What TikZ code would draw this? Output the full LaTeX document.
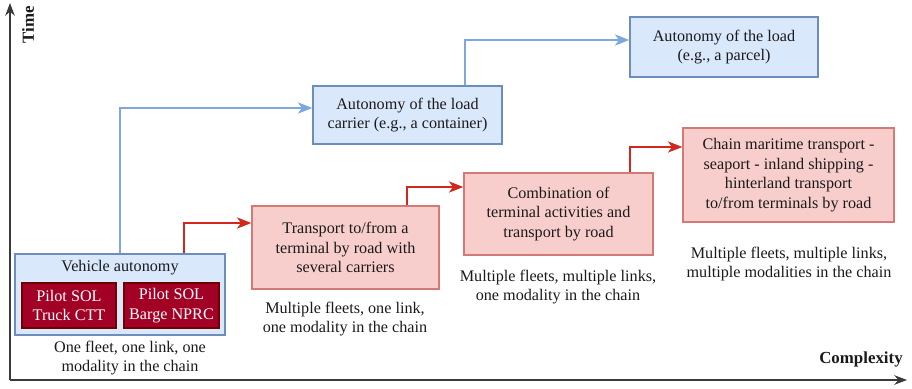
\documentclass[tikz,border=0pt]{standalone}
\usepackage{fontspec}
\setmainfont{Liberation Serif}
\usepackage{tikz}
\usetikzlibrary{arrows.meta,positioning}
\definecolor{bluefill}{HTML}{DAE8FC}
\definecolor{blueline}{HTML}{6C8EBF}
\definecolor{redfill}{HTML}{F8CECC}
\definecolor{redline}{HTML}{D47A76}
\definecolor{pilotfill}{HTML}{A20025}
\definecolor{pilotline}{HTML}{6F0000}
\definecolor{bluearrow}{HTML}{7EA6E0}
\definecolor{redarrow}{HTML}{D0281F}
\definecolor{axisgray}{HTML}{3A3A3A}
\definecolor{txt}{HTML}{1A1A1A}
\tikzset{
  stage/.style={draw,align=center,inner sep=2pt,line width=0.9pt,text=txt,
    font=\fontsize{11.5}{14}\selectfont},
  bluebox/.style={stage,fill=bluefill,draw=blueline},
  redbox/.style={stage,fill=redfill,draw=redline},
  pilot/.style={stage,fill=pilotfill,draw=pilotline,text=white,
    minimum height=1.125cm},
  caption/.style={align=center,text=txt,font=\fontsize{11.5}{13.5}\selectfont},
  axislabel/.style={font=\fontsize{12}{14}\selectfont\bfseries,text=txt},
  axis/.style={-{Stealth[length=3.2mm,width=2.4mm]},line width=0.9pt,draw=axisgray},
  bluearr/.style={-{Stealth[length=3.6mm,width=2.8mm,inset=1mm]},line width=1.1pt,draw=bluearrow},
  redarr/.style={bluearr,draw=redarrow},
}
\begin{document}
\begin{tikzpicture}[x=0.025cm,y=-0.025cm]
  \useasboundingbox (0,0) rectangle (912,388);
  % axes
  \coordinate (o) at (10,380);
  \coordinate (ytop) at (10,3);
  \coordinate (xend) at (907,380);
  \draw[axis] (o) -- (ytop);
  \draw[axis] (o) -- (xend);
  \node[axislabel,rotate=90] (time) at (28,25) {Time};
  \node[axislabel] (cplx) at (861,359) {Complexity};

  % first stage: one fleet
  \node[bluebox,minimum width=5.25cm,minimum height=2.025cm] (veh) at (120,294.5) {};
  \node[stage,draw=none] (vehtitle) at (120,268) {Vehicle autonomy};
  \node[pilot,minimum width=2.35cm] (ctt) at (69,305.5) {Pilot SOL\\Truck CTT};
  \node[pilot,minimum width=2.375cm] (nprc) at (171.5,305.5) {Pilot SOL\\Barge NPRC};
  \node[caption] (cap1) at (130,358) {One fleet, one link, one\\modality in the chain};

  % load autonomy track
  \node[bluebox,minimum width=4.725cm,minimum height=1.45cm] (carrier) at (407.5,115)
    {Autonomy of the load\\carrier (e.g., a container)};
  \node[bluebox,minimum width=4.7cm,minimum height=1.5cm] (parcel) at (724,47)
    {Autonomy of the load\\(e.g., a parcel)};

  % chain track
  \node[redbox,minimum width=4.675cm,minimum height=2.075cm] (road) at (345.5,247.5)
    {Transport to/from a\\terminal by road with\\several carriers};
  \node[caption] (cap2) at (345,319) {Multiple fleets, one link,\\one modality in the chain};
  \node[redbox,minimum width=4.725cm,minimum height=2.05cm] (term) at (558.5,214)
    {Combination of\\terminal activities and\\transport by road};
  \node[caption] (cap3) at (558,287) {Multiple fleets, multiple links,\\one modality in the chain};
  \node[redbox,minimum width=5.275cm,minimum height=2.35cm] (chain) at (788.5,175)
    {Chain maritime transport -\\seaport - inland shipping -\\hinterland transport\\to/from terminals by road};
  \node[caption] (cap4) at (789,264) {Multiple fleets, multiple links,\\multiple modalities in the chain};

  % connectors
  \draw[bluearr] (veh.north) |- ([yshift=0.175cm]carrier.west);
  \draw[bluearr] ([xshift=1.4375cm]carrier.north) |- ([yshift=0.175cm]parcel.west);
  \draw[redarr] ([xshift=1.6cm]veh.north) |- ([yshift=0.6125cm]road.west);
  \draw[redarr] ([xshift=1.5375cm]road.north) |- ([yshift=0.675cm]term.west);
  \draw[redarr] ([xshift=1.7875cm]term.north) |- ([yshift=0.7cm]chain.west);
\end{tikzpicture}
\end{document}
